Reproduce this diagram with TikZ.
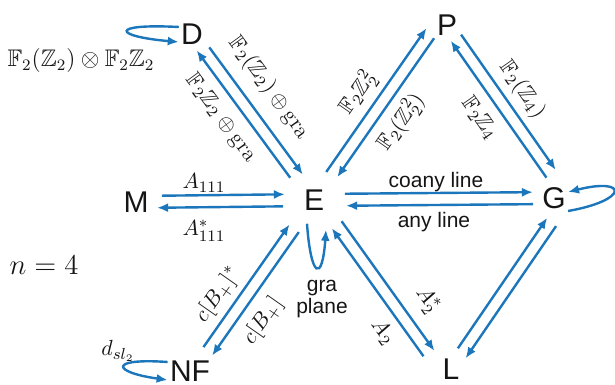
\documentclass[tikz,border=0pt]{standalone}
\usepackage{amssymb}
\usepackage{fontspec}
\setsansfont{Liberation Sans}
\usepackage{tikz}
\usetikzlibrary{arrows.meta,calc}
\definecolor{edgeblue}{HTML}{1C76BC}
\definecolor{ink}{HTML}{151515}

\begin{document}
\begin{tikzpicture}[x=0.5pt,y=-0.5pt,
  vtx/.style={font=\fontsize{15}{15}\sffamily, text=ink, inner sep=1pt},
  lab/.style={font=\fontsize{11}{13}\selectfont, text=ink, inner sep=0pt},
  txt/.style={font=\fontsize{10.5}{11}\sffamily, text=ink, align=center, inner sep=0pt},
  arr/.style 2 args={draw=edgeblue, line width=1.2pt,
    -{Latex[length=5.5pt,width=4.5pt]}, shorten <=#1, shorten >=#2},
  selfloop/.style={draw=edgeblue, line width=1.2pt, -{Latex[length=5.5pt,width=4.5pt]}},
]
  \useasboundingbox (0,0) rectangle (615,385);

  % vertices
  \node[vtx] (D) at (192,34) {D};
  \node[vtx] (P) at (447,25) {P};
  \node[vtx] (M) at (136,202) {M};
  \node[vtx] (E) at (314,200) {E};
  \node[vtx] (G) at (554,198) {G};
  \node[vtx] (NF) at (190,371) {NF};
  \node[vtx] (L) at (451,369) {L};
  \coordinate (Pl) at ([xshift=-5.5pt]P.center);
  \coordinate (Gr) at ([xshift=7pt]G.center);
  \coordinate (Eu) at ([yshift=3.5pt]E.center);
  \coordinate (Ll) at ([xshift=-5.5pt]L.center);
  \coordinate (NFr) at ([xshift=2pt]NF.center);

  % paired arrows
  \draw[arr={10.5pt}{13.5pt}] ($(D)!3pt!90:(E)$) -- ($(E)!3pt!-90:(D)$);
  \draw[arr={16pt}{8pt}] ($(E)!3pt!90:(D)$) -- ($(D)!3pt!-90:(E)$);
  \draw[arr={13pt}{14.5pt}] ($(M)!3pt!90:(E)$) -- ($(E)!3pt!-90:(M)$);
  \draw[arr={15.5pt}{10.5pt}] ($(E)!3pt!90:(M)$) -- ($(M)!3pt!-90:(E)$);
  \draw[arr={15.5pt}{10.5pt}] ($(E)!3pt!90:(G)$) -- ($(G)!3pt!-90:(E)$);
  \draw[arr={10.5pt}{16pt}] ($(G)!3pt!90:(E)$) -- ($(E)!3pt!-90:(G)$);
  \draw[arr={15pt}{4pt}] ($(E)!3pt!90:(Pl)$) -- ($(Pl)!3pt!-90:(E)$);
  \draw[arr={6pt}{16pt}] ($(Pl)!3pt!90:(E)$) -- ($(E)!3pt!-90:(Pl)$);
  \draw[arr={8pt}{15pt}] ($(P)!3pt!90:(Gr)$) -- ($(Gr)!3pt!-90:(P)$);
  \draw[arr={14.5pt}{7.5pt}] ($(Gr)!3pt!90:(P)$) -- ($(P)!3pt!-90:(Gr)$);
  \draw[arr={15pt}{8.5pt}] ($(Gr)!3pt!90:(L)$) -- ($(L)!3pt!-90:(Gr)$);
  \draw[arr={10.5pt}{14pt}] ($(L)!3pt!90:(Gr)$) -- ($(Gr)!3pt!-90:(L)$);
  \draw[arr={19.5pt}{9pt}] ($(Eu)!3pt!90:(Ll)$) -- ($(Ll)!3pt!-90:(Eu)$);
  \draw[arr={10pt}{19.5pt}] ($(Ll)!3pt!90:(Eu)$) -- ($(Eu)!3pt!-90:(Ll)$);
  \draw[arr={12.5pt}{17pt}] ($(NFr)!3pt!90:(E)$) -- ($(E)!3pt!-90:(NFr)$);
  \draw[arr={17.5pt}{11.5pt}] ($(E)!3pt!90:(NFr)$) -- ($(NFr)!3pt!-90:(E)$);

  % self loops
  \draw[selfloop] ([yshift=3.5pt]D.west) .. controls +(177:35pt) and +(175:33pt) .. ([yshift=-4pt]D.west);
  \draw[selfloop] ([yshift=4.5pt]NF.west) .. controls +(176:30pt) and +(172:28pt) .. ([yshift=-4.5pt]NF.west);
  \draw[selfloop] ([yshift=-6.5pt]G.east) .. controls +(10:31pt) and +(14:31pt) .. ([yshift=3pt]G.east);
  \draw[selfloop] ([shift={(-7,11)}]E.south) .. controls +(-86:27pt) and +(-94:27pt) .. ([shift={(12,17)}]E.south);

  % labels
  \node[lab, font=\fontsize{12}{14}\selectfont] (lD) at (81,61) {$\mathbb{F}_2(\mathbb{Z}_2)\otimes\mathbb{F}_2\mathbb{Z}_2$};
  \node[lab, rotate=-53.7] (lDE) at (269,88) {$\mathbb{F}_2(\mathbb{Z}_2)\oplus\mathrm{gra}$};
  \node[lab, rotate=-53.7] (lED) at (221,118) {$\mathbb{F}_2\mathbb{Z}_2\oplus\mathrm{gra}$};
  \node[lab] (lME) at (204,183) {$A_{111}$};
  \node[lab] (lEM) at (204,231) {$A^*_{111}$};
  \node[txt] (lEG) at (436,182) {coany line};
  \node[txt] (lGE) at (434,222) {any line};
  \node[lab, rotate=55] (lEP) at (358,93) {$\mathbb{F}_2\mathbb{Z}_2^2$};
  \node[lab, rotate=55] (lPE) at (401,122) {$\mathbb{F}_2(\mathbb{Z}_2^2)$};
  \node[lab, rotate=-55] (lPG) at (522,90) {$\mathbb{F}_2(\mathbb{Z}_4)$};
  \node[lab, rotate=-55] (lGP) at (480,118) {$\mathbb{F}_2\mathbb{Z}_4$};
  \node[lab, rotate=-54.3] (lEL) at (427,300) {$A_2^*$};
  \node[lab, rotate=-54.3] (lLE) at (383,332) {$A_2$};
  \node[lab, rotate=55] (lNE) at (218,295) {$c[B_+]^*$};
  \node[lab, rotate=55] (lEN) at (263,321) {$c[B_+]$};
  \node[txt] (lEE) at (322,299) {gra\\plane};
  \node[lab] (lNN) at (118,351) {$d_{sl_2}$};
  \node[lab, font=\fontsize{14}{16}\selectfont] (nval) at (44,265) {$n=4$};
\end{tikzpicture}
\end{document}
